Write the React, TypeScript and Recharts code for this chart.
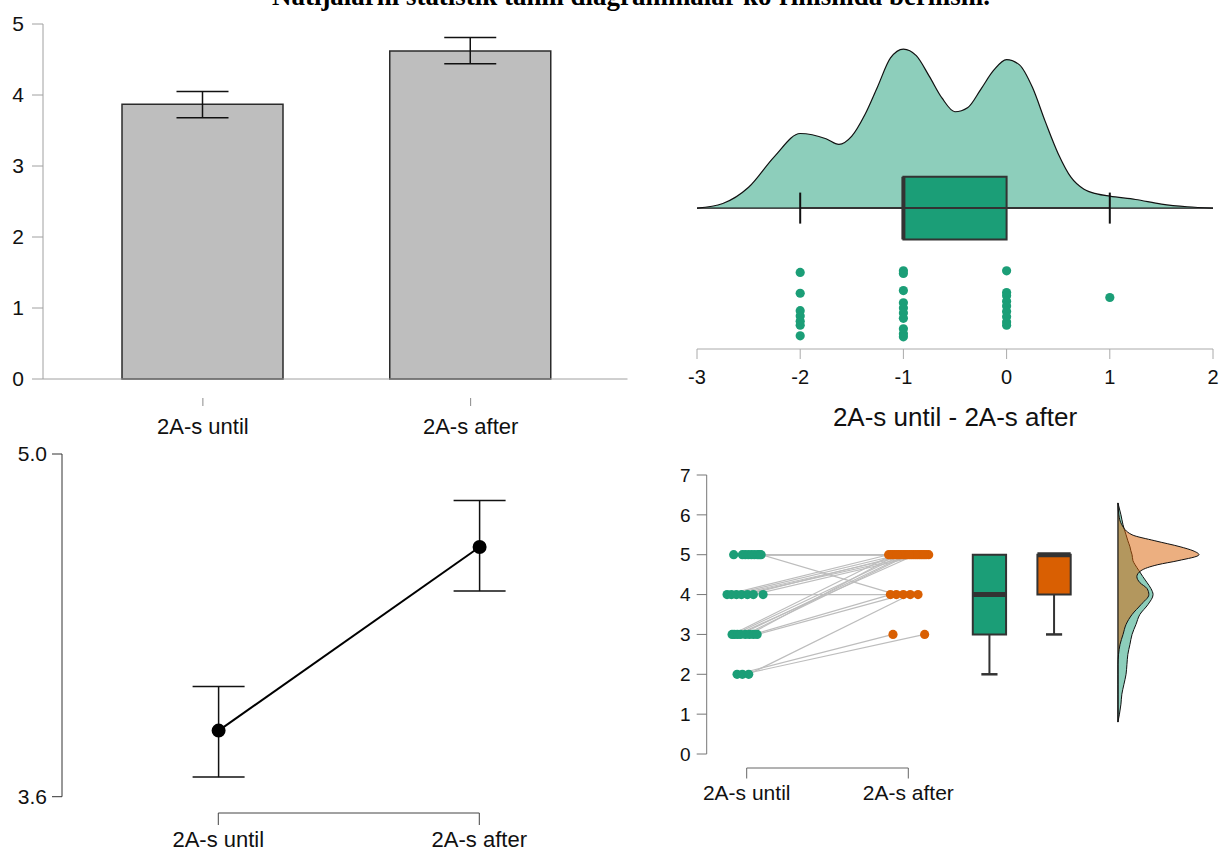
import React from "react";
import {
  BarChart,
  Bar,
  ErrorBar,
  LineChart,
  Line,
  ComposedChart,
  Area,
  Scatter,
  XAxis,
  YAxis,
  ReferenceArea,
  ReferenceLine,
} from "recharts";

const TITLE = "Natijalarni statistik tahlil diagrammalar ko'rinishida berilishi.";

// descriptives (bar + point plots)
const GROUPS = ["2A-s until", "2A-s after"];
const MEANS = [3.87, 4.62];
const CI_LOW = [3.68, 4.44];
const CI_HIGH = [4.05, 4.81];

// difference raincloud
const DIFF_LABEL = "2A-s until - 2A-s after";
const DIFF_TICKS = [-3, -2, -1, 0, 1, 2];
const DIFF_KDE_X = [-3, -2.75, -2.5, -2.25, -2, -1.75, -1.625, -1.5, -1.375, -1.25, -1.125, -1, -0.875, -0.75, -0.625, -0.5, -0.375, -0.25, -0.125, 0, 0.125, 0.25, 0.375, 0.5, 0.625, 0.75, 0.875, 1, 1.25, 1.5, 1.75, 2];
const DIFF_KDE_Y = [0, 0.014, 0.063, 0.156, 0.226, 0.21, 0.193, 0.218, 0.282, 0.368, 0.455, 0.482, 0.462, 0.4, 0.333, 0.292, 0.305, 0.36, 0.418, 0.45, 0.434, 0.366, 0.262, 0.165, 0.093, 0.057, 0.043, 0.036, 0.026, 0.012, 0.004, 0];
const DIFF_VALUES = [-2, -2, -2, -2, -2, -2, -2, -1, -1, -1, -1, -1, -1, -1, -1, -1, -1, 0, 0, 0, 0, 0, 0, 0, 0, 0, 1];
const DIFF_JITTER = [-0.195, -0.258, -0.311, -0.327, -0.343, -0.355, -0.387, -0.19, -0.198, -0.25, -0.287, -0.303, -0.318, -0.334, -0.366, -0.381, -0.39, -0.19, -0.256, -0.266, -0.282, -0.297, -0.313, -0.329, -0.345, -0.355, -0.271];
const DIFF_BOX = [-2, -1, -1, 0, 1]; // low whisker, q1, median, q3, high whisker

// paired raincloud
const SCORE_TICKS = [0, 1, 2, 3, 4, 5, 6, 7];
const UNTIL = [5, 5, 5, 5, 5, 5, 5, 5, 5, 4, 4, 4, 4, 4, 4, 4, 3, 3, 3, 3, 3, 3, 3, 3, 2, 2, 2];
const AFTER = [5, 5, 5, 5, 5, 5, 5, 5, 4, 5, 5, 5, 5, 5, 5, 4, 5, 5, 5, 5, 5, 5, 4, 4, 3, 3, 4];
const UNTIL_JITTER = [-0.083, -0.029, -0.011, 0.008, 0.027, 0.045, 0.064, 0.076, 0.087, -0.124, -0.097, -0.066, -0.035, 0.002, 0.039, 0.099, -0.093, -0.079, -0.06, -0.041, -0.011, 0.014, 0.039, 0.062, -0.062, -0.029, 0.01];
const AFTER_JITTER = [0.124, -0.11, 0.082, -0.047, 0.03, 0.108, -0.085, 0.056, -0.076, -0.124, -0.06, 0.017, 0.069, -0.022, 0.095, 0.058, -0.098, -0.034, 0.043, -0.009, 0.004, -0.072, -0.113, -0.033, -0.097, 0.099, 0.01];
const BOX_UNTIL = [2, 3, 4, 5, 5];
const BOX_AFTER = [3, 4, 5, 5, 5];
const KDE_SCORE = [0.8, 1, 1.25, 1.5, 1.75, 2, 2.25, 2.5, 2.75, 3, 3.25, 3.5, 3.75, 4, 4.15, 4.3, 4.45, 4.6, 4.75, 4.85, 5, 5.1, 5.2, 5.35, 5.5, 5.75, 6, 6.3];
const KDE_UNTIL = [0, 0.005, 0.01, 0.013, 0.02, 0.027, 0.03, 0.033, 0.04, 0.047, 0.06, 0.073, 0.1, 0.117, 0.11, 0.097, 0.083, 0.07, 0.057, 0.05, 0.047, 0.043, 0.04, 0.033, 0.027, 0.017, 0.01, 0];
const KDE_AFTER = [0, 0, 0, 0, 0, 0, 0, 0.002, 0.007, 0.017, 0.027, 0.047, 0.077, 0.103, 0.097, 0.073, 0.063, 0.077, 0.133, 0.2, 0.27, 0.25, 0.207, 0.123, 0.047, 0.013, 0.003, 0];

const GREEN = "#1b9e77";
const ORANGE = "#d95f02";
const INK = "#111";
const FONT = "'Liberation Sans', Arial, sans-serif";

const BOX_X = [2.5, 2.9];
const BOX_HALF = 0.103;
const CAP_HALF = 0.05;

const barData = GROUPS.map((g, i) => ({
  name: g,
  mean: MEANS[i],
  err: [MEANS[i] - CI_LOW[i], CI_HIGH[i] - MEANS[i]],
}));
const lineData = GROUPS.map((g, i) => ({
  x: i + 1,
  mean: MEANS[i],
  err: [MEANS[i] - CI_LOW[i], CI_HIGH[i] - MEANS[i]],
}));
const diffKde = DIFF_KDE_X.map((x, i) => ({ x, d: DIFF_KDE_Y[i] }));
const diffPts = DIFF_VALUES.map((x, i) => ({ x, y: DIFF_JITTER[i] }));
const pairs = UNTIL.map((u, i) => [
  { x: 1 + UNTIL_JITTER[i], y: u },
  { x: 2 + AFTER_JITTER[i], y: AFTER[i] },
]);
const untilPts = UNTIL.map((u, i) => ({ x: 1 + UNTIL_JITTER[i], y: u }));
const afterPts = AFTER.map((a, i) => ({ x: 2 + AFTER_JITTER[i], y: a }));
const scoreKde = KDE_SCORE.map((y, i) => ({ y, until: KDE_UNTIL[i], after: KDE_AFTER[i] }));

const dot = (color: string, r: number) => (p: any) => <circle cx={p.cx} cy={p.cy} r={r} fill={color} />;
const noShape = () => <g />;

const CatTick = (props: any) => {
  const { x, y, payload } = props;
  return (
    <g>
      <line x1={x} x2={x} y1={y + 19} y2={y + 27} stroke="#8a8a8a" />
      <text x={x} y={y + 55} textAnchor="middle" fontSize={22} fill={INK}>
        {payload.value}
      </text>
    </g>
  );
};

// vertical box plot on a numeric x axis
function vBox(cx: number, s: number[], color: string) {
  const [lo, q1, med, q3, hi] = s;
  const out = [];
  if (lo < q1)
    out.push(
      <ReferenceLine key="wl" segment={[{ x: cx, y: q1 }, { x: cx, y: lo }]} stroke="#333" strokeWidth={2} />,
      <ReferenceLine key="cl" segment={[{ x: cx - CAP_HALF, y: lo }, { x: cx + CAP_HALF, y: lo }]} stroke="#333" strokeWidth={2.5} />
    );
  if (hi > q3)
    out.push(
      <ReferenceLine key="wh" segment={[{ x: cx, y: q3 }, { x: cx, y: hi }]} stroke="#333" strokeWidth={2} />,
      <ReferenceLine key="ch" segment={[{ x: cx - CAP_HALF, y: hi }, { x: cx + CAP_HALF, y: hi }]} stroke="#333" strokeWidth={2.5} />
    );
  out.push(
    <ReferenceArea key="box" x1={cx - BOX_HALF} x2={cx + BOX_HALF} y1={q1} y2={q3} fill={color} fillOpacity={1} stroke="#333" strokeWidth={2} />,
    <ReferenceLine key="med" segment={[{ x: cx - BOX_HALF, y: med }, { x: cx + BOX_HALF, y: med }]} stroke="#333" strokeWidth={5} />
  );
  return out;
}

export default function App() {
  const [lo, q1, med, q3, hi] = DIFF_BOX;
  return (
    <div style={{ position: "absolute", left: 0, top: 0, width: 1220, height: 852, overflow: "hidden", background: "#fff", fontFamily: FONT }}>
      <svg width={1220} height={13} style={{ position: "absolute", left: 0, top: 0 }}>
        <text x={272} y={4.5} textLength={718} lengthAdjust="spacingAndGlyphs" fontFamily="'Liberation Serif', 'Times New Roman', serif" fontWeight="bold" fontSize={27} fill="#000">
          {TITLE}
        </text>
      </svg>

      {/* bar chart of means */}
      <div style={{ position: "absolute", left: 0, top: 0 }}>
        <BarChart width={640} height={444} data={barData} margin={{ top: 24, right: 12.5, left: 0, bottom: 0 }}>
          <XAxis dataKey="name" height={65} padding={{ left: 26, right: 23 }} axisLine={{ stroke: "#a0a0a0" }} tickLine={false} tickSize={0} tickMargin={0} tick={<CatTick />} interval={0} />
          <YAxis width={43} domain={[0, 5]} ticks={[0, 1, 2, 3, 4, 5]} interval={0} tickSize={11} tickMargin={8} axisLine={{ stroke: "#a0a0a0" }} tickLine={{ stroke: "#a0a0a0" }} tick={{ fill: INK, fontSize: 21 }} />
          <Bar dataKey="mean" fill="#bebebe" stroke="#2b2b2b" strokeWidth={1.5} barSize={161} isAnimationActive={false}>
            <ErrorBar dataKey="err" width={26} stroke={INK} strokeWidth={1.5} />
          </Bar>
        </BarChart>
      </div>

      {/* descriptives point plot */}
      <div style={{ position: "absolute", left: 0, top: 440 }}>
        <LineChart width={640} height={375} data={lineData} margin={{ top: 14, right: 56, left: 0, bottom: 18.3 }}>
          <XAxis type="number" dataKey="x" domain={[0.4, 2.4]} hide />
          <YAxis width={62} domain={[3.6, 5.0]} ticks={[3.6, 5.0]} interval={0} tickFormatter={(v: number) => v.toFixed(1)} tickSize={10} tickMargin={5} axisLine={{ stroke: "#333" }} tickLine={{ stroke: "#333" }} tick={{ fill: INK, fontSize: 21 }} allowDataOverflow />
          <Line dataKey="mean" stroke="#000" strokeWidth={2} dot={{ r: 6, fill: "#000", stroke: "#000" }} isAnimationActive={false}>
            <ErrorBar dataKey="err" width={26} stroke={INK} strokeWidth={1.5} />
          </Line>
        </LineChart>
      </div>
      <div style={{ position: "absolute", left: 0, top: 811.5 }}>
        <LineChart width={640} height={41} data={lineData} margin={{ top: 0, right: 160.7, left: 218.3, bottom: 0 }}>
          <XAxis type="number" dataKey="x" domain={[1, 2]} ticks={[1, 2]} interval={0} height={40} tickFormatter={(v: number) => GROUPS[v - 1]} tickSize={12} tickMargin={6} axisLine={{ stroke: "#444" }} tickLine={{ stroke: "#444" }} tick={{ fill: INK, fontSize: 22 }} />
          <YAxis hide domain={[0, 1]} />
        </LineChart>
      </div>

      {/* raincloud of differences */}
      <div style={{ position: "absolute", left: 680, top: 20 }}>
        <ComposedChart width={540} height={420} data={diffKde} margin={{ top: 6.6, right: 7, left: 17, bottom: 0 }}>
          <XAxis type="number" dataKey="x" domain={[-3, 2]} ticks={DIFF_TICKS} interval={0} height={91} tickSize={10} tickMargin={11} axisLine={{ stroke: "#aaa" }} tickLine={{ stroke: "#aaa" }} tick={{ fill: INK, fontSize: 20 }} label={{ value: DIFF_LABEL, position: "insideBottom", offset: 14, fontSize: 26, fill: INK }} allowDataOverflow />
          <YAxis type="number" dataKey="y" domain={[-0.427, 0.55]} hide allowDataOverflow />
          <Area type="monotone" dataKey="d" fill={GREEN} fillOpacity={0.5} stroke={INK} strokeWidth={1.2} baseValue={0} isAnimationActive={false} />
          <ReferenceLine y={0} stroke={INK} strokeWidth={1.2} />
          <ReferenceLine segment={[{ x: lo, y: 0 }, { x: hi, y: 0 }]} stroke="#333" strokeWidth={2} />
          <ReferenceLine segment={[{ x: lo, y: -0.047 }, { x: lo, y: 0.047 }]} stroke={INK} strokeWidth={2} />
          <ReferenceLine segment={[{ x: hi, y: -0.047 }, { x: hi, y: 0.047 }]} stroke={INK} strokeWidth={2} />
          <ReferenceArea x1={q1} x2={q3} y1={-0.095} y2={0.095} fill={GREEN} fillOpacity={1} stroke="#333" strokeWidth={2} />
          <ReferenceLine segment={[{ x: med, y: -0.095 }, { x: med, y: 0.095 }]} stroke="#333" strokeWidth={4} />
          <Scatter data={diffPts} shape={dot(GREEN, 4.6)} isAnimationActive={false} />
        </ComposedChart>
      </div>

      {/* paired raincloud */}
      <div style={{ position: "absolute", left: 660, top: 460 }}>
        <ComposedChart width={560} height={315} margin={{ top: 15, right: 6, left: 0, bottom: 21 }}>
          <XAxis type="number" dataKey="x" domain={[0.75, 3.89]} hide allowDataOverflow />
          <YAxis type="number" dataKey="y" width={46.7} domain={[0, 7]} ticks={SCORE_TICKS} interval={0} tickSize={10} tickMargin={6} axisLine={{ stroke: "#777" }} tickLine={{ stroke: "#777" }} tick={{ fill: INK, fontSize: 19 }} allowDataOverflow />
          {pairs.map((p, i) => (
            <Scatter key={"p" + i} data={p} line={{ stroke: "#bdbdbd", strokeWidth: 1.2 }} shape={noShape} isAnimationActive={false} />
          ))}
          {vBox(BOX_X[0], BOX_UNTIL, GREEN)}
          {vBox(BOX_X[1], BOX_AFTER, ORANGE)}
          <Scatter data={untilPts} shape={dot(GREEN, 4.6)} isAnimationActive={false} />
          <Scatter data={afterPts} shape={dot(ORANGE, 4.6)} isAnimationActive={false} />
        </ComposedChart>
      </div>
      <div style={{ position: "absolute", left: 660, top: 460 }}>
        <ComposedChart layout="vertical" width={560} height={315} data={scoreKde} margin={{ top: 15, right: 6, left: 46.7, bottom: 21 }}>
          <XAxis type="number" domain={[-1.37, 0.32]} hide allowDataOverflow />
          <YAxis type="number" dataKey="y" domain={[0, 7]} reversed hide allowDataOverflow />
          <Area type="monotone" dataKey="until" fill={GREEN} fillOpacity={0.5} stroke={INK} strokeWidth={1} baseValue={0} isAnimationActive={false} />
          <Area type="monotone" dataKey="after" fill={ORANGE} fillOpacity={0.5} stroke={INK} strokeWidth={1} baseValue={0} isAnimationActive={false} />
          <ReferenceLine segment={[{ x: 0, y: KDE_SCORE[0] }, { x: 0, y: KDE_SCORE[KDE_SCORE.length - 1] }]} stroke={INK} strokeWidth={1.2} />
        </ComposedChart>
      </div>
      <div style={{ position: "absolute", left: 660, top: 766.5 }}>
        <LineChart width={560} height={41} data={lineData} margin={{ top: 0, right: 311.7, left: 86.7, bottom: 0 }}>
          <XAxis type="number" dataKey="x" domain={[1, 2]} ticks={[1, 2]} interval={0} height={40} tickFormatter={(v: number) => GROUPS[v - 1]} tickSize={10.5} tickMargin={7} axisLine={{ stroke: "#666" }} tickLine={{ stroke: "#666" }} tick={{ fill: INK, fontSize: 21 }} />
          <YAxis hide domain={[0, 1]} />
        </LineChart>
      </div>
    </div>
  );
}
